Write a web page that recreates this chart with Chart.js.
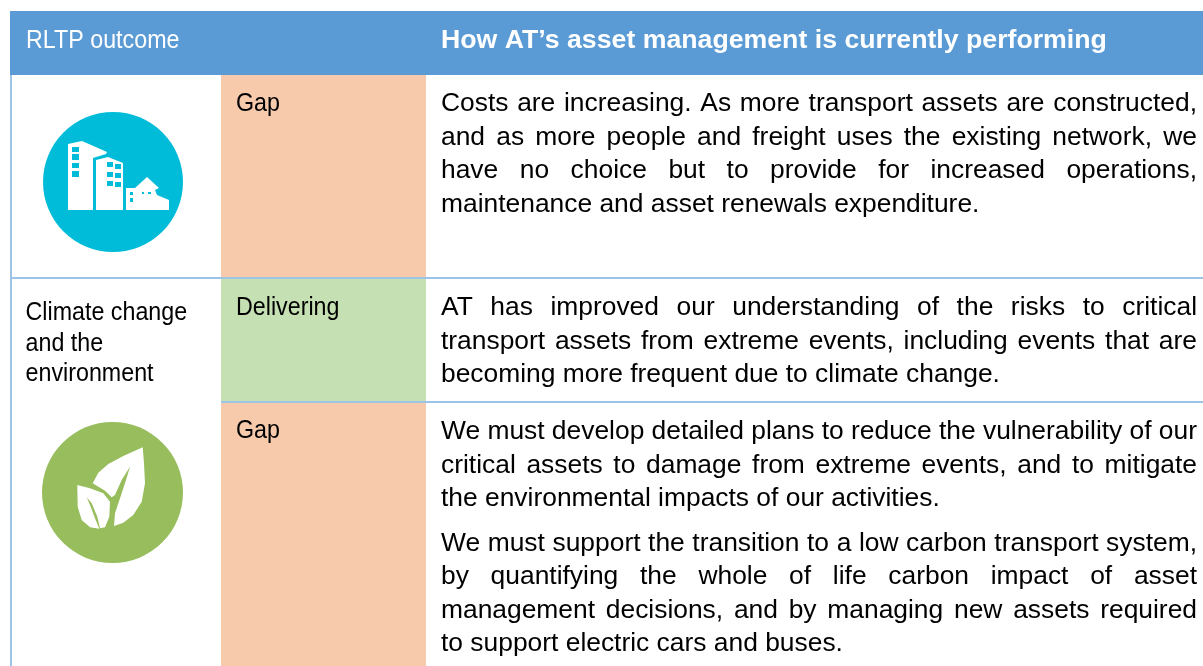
<!DOCTYPE html>
<html>
<head>
<meta charset="utf-8">
<title>RLTP outcome</title>
<script src="https://cdn.jsdelivr.net/npm/chart.js@4"></script>
<style>
  html, body { margin: 0; padding: 0; background: #fff; }
  canvas { display: block; }
</style>
</head>
<body>
<canvas id="tableChart" width="1203" height="666"></canvas>
<script>
// Table content
const headerLabels = ['RLTP outcome', 'How AT\u2019s asset management is currently performing'];
const outcomeLines = ['Climate change', 'and the', 'environment'];
const statusLabels = ['Gap', 'Delivering', 'Gap'];
const costLines = [
    'Costs are increasing. As more transport assets are constructed,',
    'and as more people and freight uses the existing network, we',
    'have no choice but to provide for increased operations,',
    'maintenance and asset renewals expenditure.'
];
const riskLines = [
    'AT has improved our understanding of the risks to critical',
    'transport assets from extreme events, including events that are',
    'becoming more frequent due to climate change.'
];
const planLines = [
    'We must develop detailed plans to reduce the vulnerability of our',
    'critical assets to damage from extreme events, and to mitigate',
    'the environmental impacts of our activities.'
];
const carbonLines = [
    'We must support the transition to a low carbon transport system,',
    'by quantifying the whole of life carbon impact of asset',
    'management decisions, and by managing new assets required',
    'to support electric cars and buses.'
];

// Table grid, in axis units
const columnEdges = [10, 221, 426, 1203];
const rowEdges = [11, 75, 278, 402, 666];

// Icon outlines, in axis units
const tallBlock = [[68,144],[82,141],[107,152],[106,154],[93,158],[93,210],[68,210]];
const midBlock = [[96,160],[108,157],[123,163],[123,210],[96,210]];
const house = [[126,188],[135,188],[147,177],[159,188],[155,190],[157,195],[169,200],[169,210],[126,210]];
const windows = [
    [72,147,79,152],[72,154,79,160],[72,163,79,168],[72,171,79,177],
    [107,162,113,167],[115,164,121,169],[107,172,113,177],[115,173,121,178],[107,181,113,186],[115,182,121,187],
    [130,192,133,195],[130,198,133,202],[142,192,144,194],[148,192,151,194]
];
const bigLeaf = [[92.7,483.3],[98.3,472.7],[108.3,464],[123.3,456],[142.7,447.3],[144,463.3],[145,483.3],[141.7,501.7],[133.3,515],[123.3,522.7],[114,526],[115,513.3],[120,498.3],[126,480],[130,466.7],[121.7,480],[115,495],[111.7,497.3],[105,490.7]];
const smallLeaf = [[77.3,485],[90,488.3],[103.3,493.3],[110,501.7],[109.3,516.7],[105,527.3],[100,528.3],[97.3,516.7],[91.7,503.3],[86.7,497.3],[90,505],[95,518.3],[99.3,528.7],[90,527.3],[81.7,520],[77.7,506.7]];

const BLUE = '#5b9bd5';
const RULE = '#9dc3e6';
const PEACH = '#f7caac';
const GREEN = '#c5e0b3';
const TEAL = '#00bcd9';
const LEAF = '#97bd5d';
const BODY_FONT = '26.4px "Liberation Sans", Arial, sans-serif';
const LABEL_FONT = '26px "Liberation Sans", Arial, sans-serif';
const LABEL_SQUEEZE = 0.895;
const BODY_RIGHT = 1197;

/**
 * Filled rectangle as a line dataset
 */
function cell(x0, x1, y0, y1, color) {
    return {
        data: [{ x: x0, y: y1 }, { x: x1, y: y1 }],
        fill: { value: y0 },
        backgroundColor: color,
        borderWidth: 0,
        pointRadius: 0
    };
}

function shape(points, color) {
    return {
        data: points.map(p => ({ x: p[0], y: p[1] })),
        fill: 'shape',
        backgroundColor: color,
        borderWidth: 0,
        pointRadius: 0
    };
}

function rule(x0, y0, x1, y1, width) {
    return {
        data: [{ x: x0, y: y0 }, { x: x1, y: y1 }],
        borderColor: RULE,
        borderWidth: width,
        fill: false,
        pointRadius: 0
    };
}

function disc(x, y, radius, color) {
    return {
        data: [{ x: x, y: y }],
        showLine: false,
        pointRadius: radius,
        pointBackgroundColor: color,
        pointBorderWidth: 0
    };
}

// Datasets in painting order, reversed below since Chart.js draws the first one last
const layers = [
    cell(columnEdges[0], columnEdges[3], rowEdges[0], rowEdges[1], BLUE),
    cell(columnEdges[1], columnEdges[2], rowEdges[1], rowEdges[2], PEACH),
    cell(columnEdges[1], columnEdges[2], rowEdges[2], rowEdges[3], GREEN),
    cell(columnEdges[1], columnEdges[2], rowEdges[3], rowEdges[4], PEACH),
    rule(columnEdges[0], rowEdges[2], columnEdges[3], rowEdges[2], 2),
    rule(columnEdges[1], rowEdges[3], columnEdges[3], rowEdges[3], 2),
    rule(11, rowEdges[1], 11, rowEdges[4], 2),
    disc(113, 182, 70, TEAL),
    disc(112.5, 492.5, 70.5, LEAF),
    shape(tallBlock, '#fff'),
    shape(midBlock, '#fff'),
    shape(house, '#fff'),
    ...windows.map(w => cell(w[0], w[2], w[1], w[3], TEAL)),
    shape(bigLeaf, '#fff'),
    shape(smallLeaf, '#fff')
];

/**
 * Write the table text through the chart's scales
 */
const tableText = {
    id: 'tableText',
    afterDatasetsDraw(chart) {
        const { ctx, scales } = chart;
        const put = (text, x, y, font, color, squeeze) => {
            ctx.save();
            ctx.font = font;
            ctx.fillStyle = color;
            ctx.translate(scales.x.getPixelForValue(x), scales.y.getPixelForValue(y));
            ctx.scale(squeeze, 1);
            ctx.fillText(text, 0, 0);
            ctx.restore();
        };
        const label = (text, x, y, color) => {
            put(text, x, y, LABEL_FONT, color, LABEL_SQUEEZE);
        };
        // Justified paragraph, the last line stays as it is
        const paragraph = (lines, baselines) => {
            ctx.font = BODY_FONT;
            ctx.fillStyle = '#000';
            lines.forEach((line, i) => {
                const left = scales.x.getPixelForValue(441);
                let spacing = 0;
                if (i < lines.length - 1) {
                    ctx.wordSpacing = '0px';
                    const width = ctx.measureText(line).width;
                    const gaps = line.split(' ').length - 1;
                    spacing = (scales.x.getPixelForValue(BODY_RIGHT) - left - width) / gaps;
                }
                ctx.wordSpacing = spacing + 'px';
                ctx.fillText(line, left, scales.y.getPixelForValue(baselines[i]));
            });
            ctx.wordSpacing = '0px';
        };

        ctx.save();
        ctx.textBaseline = 'alphabetic';
        label(headerLabels[0], 26, 48, '#fff');
        put(headerLabels[1], 441, 48, 'bold 26.7px "Liberation Sans", Arial, sans-serif', '#fff', 1);
        label(statusLabels[0], 236, 110.5, '#000');
        label(statusLabels[1], 236, 315, '#000');
        label(statusLabels[2], 236, 438, '#000');
        label(outcomeLines[0], 25.5, 320, '#000');
        label(outcomeLines[1], 25.5, 351, '#000');
        label(outcomeLines[2], 25.5, 381, '#000');
        paragraph(costLines, [110.5, 144.5, 178, 212]);
        paragraph(riskLines, [315, 349, 382]);
        paragraph(planLines, [438.5, 472.5, 506]);
        paragraph(carbonLines, [550.5, 584, 617.5, 651]);
        ctx.restore();
    }
};

new Chart(document.getElementById('tableChart').getContext('2d'), {
    type: 'line',
    data: { datasets: layers.slice().reverse() },
    plugins: [tableText],
    options: {
        responsive: false,
        animation: false,
        events: [],
        clip: false,
        layout: { padding: 0, autoPadding: false },
        plugins: { legend: { display: false }, tooltip: { enabled: false }, title: { display: false } },
        scales: {
            x: { type: 'linear', min: 0, max: 1203, display: false },
            y: { type: 'linear', min: 0, max: 666, reverse: true, display: false }
        }
    }
});
</script>
</body>
</html>
